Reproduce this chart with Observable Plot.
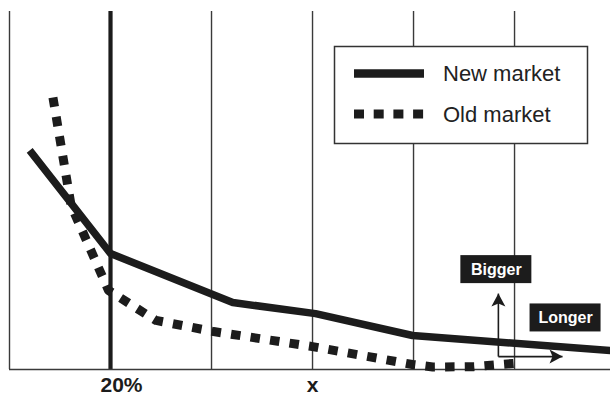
<!DOCTYPE html>
<html>
<head>
<meta charset="utf-8">
<script src="https://cdn.jsdelivr.net/npm/d3@7"></script>
<script src="https://cdn.jsdelivr.net/npm/@observablehq/plot@0.6"></script>
<style>
  html, body { margin: 0; padding: 0; background: #fff; }
  svg { display: block; }
</style>
</head>
<body>
<script>
// Vertical grid positions and bottom tick labels
const gridX = [0, 1, 2, 3, 4, 5];
const thickX = [1];
const tickPos = [1, 3];
const tickLabels = ["20%", "x"];

// Series
const seriesNames = ["New market", "Old market"];
const newX = [0.20, 1.00, 2.21, 3.03, 3.99, 5.95];
const newY = [61.2, 32.4, 18.7, 15.6, 9.5, 5.3];
const oldX = [0.43, 0.61, 0.98, 1.45, 2.02, 3.00, 3.99, 4.19, 4.60, 4.99];
const oldY = [76.0, 45.8, 22.1, 13.7, 10.6, 6.4, 1.4, 0.7, 0.8, 1.7];

// Annotations
const annLabels = ["Bigger", "Longer"];
const annX = [4.82, 5.505];
const annY = [27.9, 14.4];
const arrowOrigin = {x: 4.84, y: 3.6};
const arrowTop = 21.2;
const arrowRight = 5.475;

const newData = newX.map((x, i) => ({x, y: newY[i]}));
const oldData = oldX.map((x, i) => ({x, y: oldY[i]}));
const ticks = tickPos.map((x, i) => ({x, label: tickLabels[i]}));
const anns = annLabels.map((label, i) => ({label, x: annX[i], y: annY[i]}));

const ink = "#1c1c1c";
const arrowHead = {
  draw(ctx) {
    ctx.moveTo(0, 0);
    ctx.lineTo(7, 13);
    ctx.lineTo(0, 10);
    ctx.lineTo(-7, 13);
    ctx.closePath();
  }
};

const tickText = (data, dx) => Plot.text(data, {x: "x", y: () => 0, text: "label", fill: ink, fontSize: 21, fontWeight: "bold",
  textAnchor: "middle", lineAnchor: "top", dy: 8, dx});

const chart = Plot.plot({
  width: 610,
  height: 396,
  marginLeft: 9,
  marginRight: 0,
  marginTop: 11,
  marginBottom: 27,
  x: {domain: [0, 5.95], axis: null},
  y: {domain: [0, 100], axis: null},
  style: {fontFamily: "'Liberation Sans', Arial, Helvetica, sans-serif", background: "#fff"},
  marks: [
    Plot.ruleX(gridX.filter(d => !thickX.includes(d)), {stroke: "#3a3a3a", strokeWidth: 1.4}),
    Plot.ruleX(thickX, {stroke: ink, strokeWidth: 4.2}),
    Plot.ruleY([0], {stroke: "#3a3a3a", strokeWidth: 1.6}),
    Plot.line(oldData, {x: "x", y: "y", stroke: ink, strokeWidth: 9, strokeDasharray: "9.5,10.2", strokeLinecap: "butt", strokeLinejoin: "round"}),
    Plot.line(newData, {x: "x", y: "y", stroke: ink, strokeWidth: 7.5, strokeLinecap: "butt", strokeLinejoin: "round"}),
    // arrows
    Plot.link([arrowOrigin], {x1: "x", y1: "y", x2: "x", y2: () => arrowTop, stroke: ink, strokeWidth: 1.6}),
    Plot.link([arrowOrigin], {x1: "x", y1: "y", x2: () => arrowRight, y2: "y", stroke: ink, strokeWidth: 1.6}),
    Plot.dot([arrowOrigin], {x: "x", y: () => arrowTop, symbol: arrowHead, fill: ink, stroke: "none", r: 5}),
    Plot.dot([arrowOrigin], {x: () => arrowRight, y: "y", symbol: arrowHead, fill: ink, stroke: "none", r: 5, rotate: 90}),
    // annotation boxes
    Plot.rect(anns, {x1: "x", x2: "x", y1: "y", y2: "y", fill: ink,
      insetLeft: -35.5, insetRight: -35.5, insetTop: -14, insetBottom: -14}),
    Plot.text(anns, {x: "x", y: "y", text: "label", fill: "#fff", fontSize: 16, fontWeight: "bold", textAnchor: "middle", lineAnchor: "middle"}),
    // bottom tick labels
    tickText(ticks.filter(d => d.label === "20%"), 11),
    tickText(ticks.filter(d => d.label !== "20%"), 0),
    // legend frame
    Plot.frame({fill: "#fff", stroke: "#333", strokeWidth: 1.5, insetLeft: 325, insetRight: 23, insetTop: 35, insetBottom: 226})
  ]
});

// legend contents
const svg = d3.select(chart);
const lg = svg.append("g").attr("text-anchor", "start");
const styles = [{dash: null, w: 8.4}, {dash: "10,9.7", w: 9}];
const rowY = [73.5, 114];
seriesNames.forEach((name, i) => {
  lg.append("line")
    .attr("x1", 354).attr("x2", 424)
    .attr("y1", rowY[i]).attr("y2", rowY[i])
    .attr("stroke", ink).attr("stroke-width", styles[i].w)
    .attr("stroke-dasharray", styles[i].dash);
  lg.append("text")
    .attr("x", 443).attr("y", rowY[i])
    .attr("dy", "0.36em")
    .attr("text-anchor", "start")
    .attr("fill", "#222")
    .attr("font-size", 22)
    .text(name);
});

document.body.appendChild(chart);
</script>
</body>
</html>
